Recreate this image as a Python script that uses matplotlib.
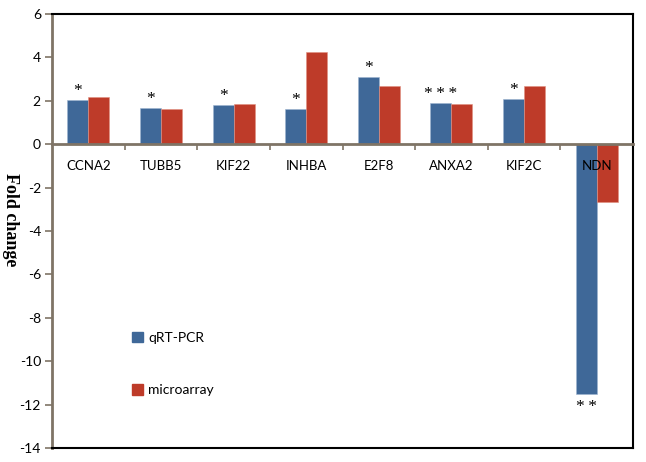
import matplotlib
matplotlib.use("Agg")
import matplotlib.pyplot as plt
import numpy as np
from matplotlib.patches import Patch

genes = ["CCNA2", "TUBB5", "KIF22", "INHBA", "E2F8", "ANXA2", "KIF2C", "NDN"]
qrt_pcr = [2.03, 1.66, 1.80, 1.64, 3.10, 1.90, 2.07, -11.5]
microarray = [2.17, 1.61, 1.86, 4.24, 2.66, 1.83, 2.67, -2.65]
stars = ["*", "*", "*", "*", "*", "*\u2009*\u2009*", "*", "*\u2009*"]
yticks = [-14, -12, -10, -8, -6, -4, -2, 0, 2, 4, 6]

blue = "#3F6898"
red = "#BE3B29"
axis_col = "#7F7466"

fig = plt.figure(figsize=(6.46, 4.62), dpi=100)
ax = fig.add_axes([52/646, 1-448/462, (633-52)/646, (448-14)/462])

x = np.arange(len(genes))
w = 0.29
ax.bar(x - w/2, qrt_pcr, w, color=blue, edgecolor="#9db3d0", linewidth=0.4, label="qRT-PCR", zorder=2)
ax.bar(x + w/2, microarray, w, color=red, edgecolor="#e09080", linewidth=0.4, label="microarray", zorder=2)

ax.set_xlim(-0.5, len(genes) - 0.5)
ax.set_ylim(-14, 6)
ax.set_yticks(yticks)
ax.set_yticklabels([str(t) for t in yticks], fontsize=10, family="Lato")
ax.tick_params(axis="y", direction="out", length=5, width=1.2, color=axis_col, pad=3)

ax.spines["bottom"].set_position(("data", 0))
ax.spines["bottom"].set_color(axis_col)
ax.spines["bottom"].set_linewidth(2)
ax.spines["bottom"].set_zorder(3)
ax.spines["left"].set_color(axis_col)
ax.spines["left"].set_linewidth(2)
ax.spines["top"].set_color("black")
ax.spines["top"].set_linewidth(1.5)
ax.spines["right"].set_color("black")
ax.spines["right"].set_linewidth(1.5)
ax.set_xticks(np.arange(0.5, len(genes) - 0.5, 1.0))
ax.set_xticklabels([])
ax.tick_params(axis="x", direction="out", length=4, width=1.2, color=axis_col)
ax.axhline(-14, color="black", linewidth=1.5, zorder=3, clip_on=False)

for i, g in enumerate(genes):
    ax.text(i, -1.0, g, ha="center", va="center", fontsize=9.5, family="Lato", zorder=4)

for i, (v, s) in enumerate(zip(qrt_pcr, stars)):
    if v >= 0:
        ax.text(i - w/2, v + 0.05, s, ha="center", va="bottom", fontsize=12.5,
                family=["Liberation Serif", "DejaVu Serif"])
    else:
        ax.text(i - w/2, v - 0.25, s, ha="center", va="top", fontsize=12.5,
                family=["Liberation Serif", "DejaVu Serif"])

fig.text(10/646, 1-220/462, "Fold change", rotation=270, ha="center", va="center",
         fontsize=13, fontweight="bold", family="Liberation Serif")

handles = [Patch(color=blue), Patch(color=red)]
leg = ax.legend(handles, ["qRT-PCR", "microarray"], loc="upper left",
                bbox_to_anchor=((119-52)/581, (448-319)/434), frameon=False,
                labelspacing=2.9, handlelength=0.8, handleheight=0.8, handletextpad=0.4,
                prop={"family": "Lato", "size": 10})

fig.savefig("out.png", dpi=100)
